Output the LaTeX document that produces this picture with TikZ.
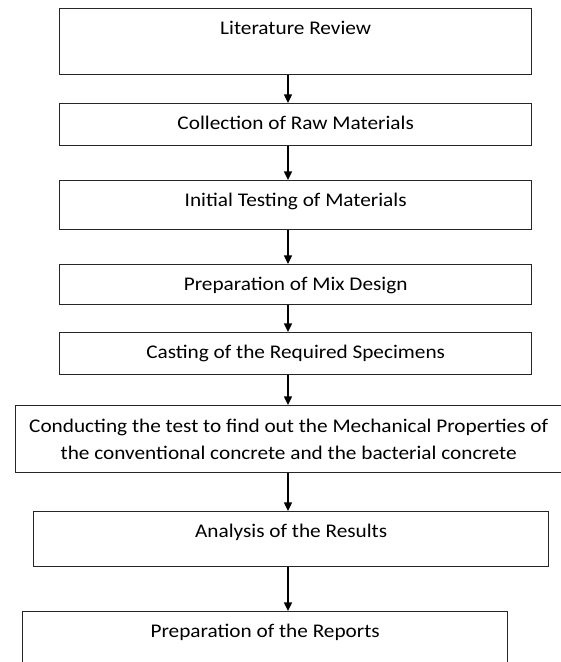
\documentclass[tikz,border=0pt]{standalone}
\usepackage{fontspec}
\setmainfont{Carlito}[FakeStretch=1.1]
\usepackage{tikz}
\usetikzlibrary{arrows.meta}

\begin{document}
\begin{tikzpicture}[
    x=0.75pt,y=-0.75pt,
    stepbox/.style={draw=black!85,line width=1pt,fill=white,inner sep=0pt,anchor=north west,
        font=\fontsize{14.5}{20.25}\selectfont},
    toptext/.style={text height=19.5pt,text depth=#1},
    arrow/.style={-{Triangle[length=6.5pt,width=6pt]},line width=1pt}
]
\useasboundingbox (0,0) rectangle (561,662);
\coordinate (axis) at (288,0);

% Steps of the work
\node[stepbox,toptext=30pt,minimum width=354pt] (review) at (59,8) {Literature Review};
\node[stepbox,toptext=12pt,minimum width=354pt] (collect) at (59,103) {Collection of Raw Materials};
\node[stepbox,toptext=17.25pt,minimum width=354pt] (initial) at (59,180) {Initial Testing of Materials};
\node[stepbox,toptext=10.5pt,minimum width=354pt] (mix) at (59,264) {Preparation of Mix Design};
\node[stepbox,toptext=12pt,minimum width=354pt] (casting) at (59,332) {Casting of the Required Specimens};
\node[stepbox,align=center,minimum width=409.5pt,minimum height=50.25pt] (testing) at (15,405)
    {Conducting the test to find out the Mechanical Properties of\\the conventional concrete and the bacterial concrete};
\node[stepbox,toptext=21.75pt,minimum width=386.25pt] (analysis) at (33,511) {Analysis of the Results};
\node[stepbox,toptext=33pt,minimum width=363.75pt] (reports) at (22,611) {Preparation of the Reports};

\draw[arrow] (review.south -| axis) -- (collect.north -| axis);
\draw[arrow] (collect.south -| axis) -- (initial.north -| axis);
\draw[arrow] (initial.south -| axis) -- (mix.north -| axis);
\draw[arrow] (mix.south -| axis) -- (casting.north -| axis);
\draw[arrow] (casting.south -| axis) -- (testing.north -| axis);
\draw[arrow] (testing.south -| axis) -- (analysis.north -| axis);
\draw[arrow] (analysis.south -| axis) -- (reports.north -| axis);
\end{tikzpicture}
\end{document}
